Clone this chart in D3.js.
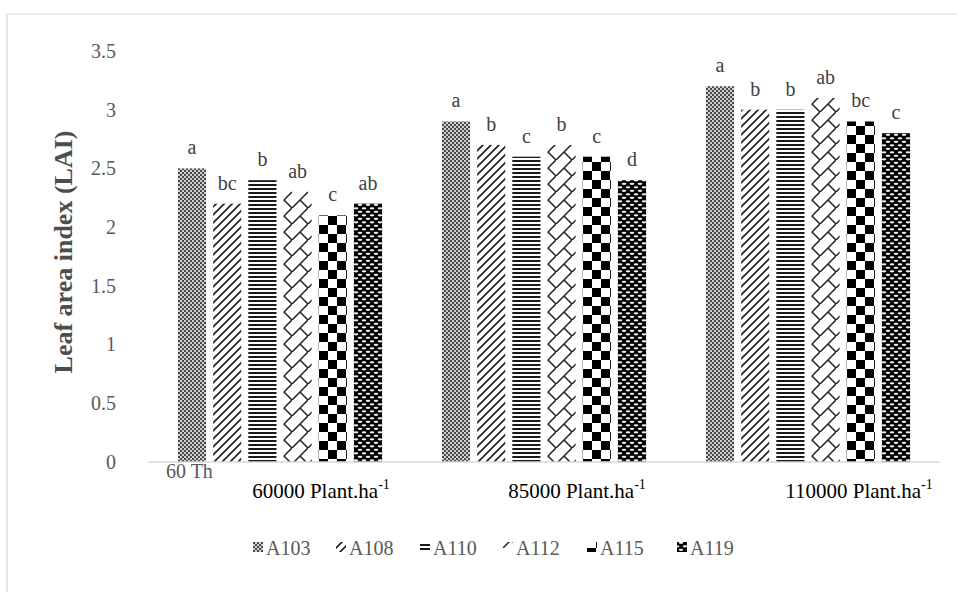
<!DOCTYPE html>
<html><head><meta charset="utf-8">
<script src="https://cdn.jsdelivr.net/npm/d3@7"></script>
<style>body{margin:0;background:#fff}svg{display:block}text{font-family:"Liberation Serif","Times New Roman",serif}</style>
</head><body>
<svg id="c" width="957" height="592"></svg>
<script>
const groups = ["60000", "85000", "110000"];
const series = ["A103", "A108", "A110", "A112", "A115", "A119"];
const values = {
  A103: [2.5, 2.9, 3.2],
  A108: [2.2, 2.7, 3.0],
  A110: [2.4, 2.6, 3.0],
  A112: [2.3, 2.7, 3.1],
  A115: [2.1, 2.6, 2.9],
  A119: [2.2, 2.4, 2.8]
};
const letters = {
  A103: ["a", "a", "a"],
  A108: ["bc", "b", "b"],
  A110: ["b", "c", "b"],
  A112: ["ab", "b", "ab"],
  A115: ["c", "c", "bc"],
  A119: ["ab", "d", "c"]
};
const yTicks = [0, 0.5, 1, 1.5, 2, 2.5, 3, 3.5];
const yTitle = "Leaf area index (LAI)";
const catSuffix = " Plant.ha";

const svg = d3.select("#c");
const defs = svg.append("defs");
const FONT = '"Liberation Serif","Times New Roman",serif';

function pat(id, w, h, draw) {
  const p = defs.append("pattern").attr("id", id).attr("patternUnits", "userSpaceOnUse")
    .attr("width", w).attr("height", h);
  draw(p);
}
pat("p0", 4, 4, p => {
  p.append("rect").attr("width", 4).attr("height", 4).attr("fill", "#4a4a4a");
  p.append("rect").attr("x", 0).attr("y", 0).attr("width", 2).attr("height", 2).attr("fill", "#d0d0d0");
  p.append("rect").attr("x", 2).attr("y", 2).attr("width", 2).attr("height", 2).attr("fill", "#d0d0d0");
});
pat("p1", 8, 8, p => {
  p.append("rect").attr("width", 8).attr("height", 8).attr("fill", "#fff");
  p.append("path").attr("d", "M-2,2 L2,-2 M0,8 L8,0 M6,10 L10,6").attr("stroke", "#222").attr("stroke-width", 1.7);
});
pat("p2", 4, 4, p => {
  p.append("rect").attr("width", 4).attr("height", 4).attr("fill", "#fff");
  p.append("rect").attr("y", 0).attr("width", 4).attr("height", 2).attr("fill", "#1a1a1a");
});
pat("p3", 16, 16, p => {
  p.append("rect").attr("width", 16).attr("height", 16).attr("fill", "#fff");
  p.append("path").attr("d", "M-1,17 L17,-1 M8,8 L16,16").attr("stroke", "#222").attr("stroke-width", 1.5).attr("fill", "none");
});
pat("p4", 18, 18, p => {
  p.append("rect").attr("width", 18).attr("height", 18).attr("fill", "#fff");
  p.append("rect").attr("x", 0).attr("y", 0).attr("width", 9).attr("height", 9).attr("fill", "#000");
  p.append("rect").attr("x", 9).attr("y", 9).attr("width", 9).attr("height", 9).attr("fill", "#000");
});
pat("p5", 8, 7, p => {
  p.append("rect").attr("width", 8).attr("height", 7).attr("fill", "#000");
  p.append("ellipse").attr("cx", 4).attr("cy", 1.8).attr("rx", 2.4).attr("ry", 1.1).attr("fill", "#eee");
  p.append("ellipse").attr("cx", 0).attr("cy", 5.3).attr("rx", 2.4).attr("ry", 1.1).attr("fill", "#eee");
  p.append("ellipse").attr("cx", 8).attr("cy", 5.3).attr("rx", 2.4).attr("ry", 1.1).attr("fill", "#eee");
});
const patId = d3.scaleOrdinal().domain(series).range(["p0", "p1", "p2", "p3", "p4", "p5"]);

// frame
svg.append("path").attr("d", "M7,592 L7,14 L957,14").attr("fill", "none").attr("stroke", "#d9d9d9").attr("stroke-width", 1.2);

const x0 = d3.scaleBand().domain(groups).range([148, 940]);
const x1 = d3.scaleBand().domain(series).range([0, x0.bandwidth()]).paddingInner(0.2).paddingOuter(0.85);
const y = d3.scaleLinear().domain([0, 3.5]).range([462, 51]);

// y ticks
const yAxis = svg.append("g").attr("transform", "translate(116,0)")
  .call(d3.axisLeft(y).tickValues(yTicks).tickSize(0).tickPadding(0).tickFormat(d3.format("")));
yAxis.select(".domain").remove();
yAxis.attr("font-family", FONT);
yAxis.selectAll("text").attr("font-size", 20).attr("fill", "#595959").attr("dy", "0.32em");

// bars
const gG = svg.selectAll(".grp").data(groups).enter().append("g")
  .attr("transform", d => `translate(${x0(d)},0)`);
series.forEach(s => {
  gG.append("rect")
    .attr("x", x1(s)).attr("width", x1.bandwidth())
    .attr("y", (d, i) => y(values[s][i]))
    .attr("height", (d, i) => y(0) - y(values[s][i]))
    .attr("fill", `url(#${patId(s)})`);
  gG.append("text")
    .attr("x", x1(s) + x1.bandwidth() / 2)
    .attr("y", (d, i) => y(values[s][i]) - 14)
    .attr("text-anchor", "middle")
    .attr("font-size", 20).attr("fill", "#404040")
    .text((d, i) => letters[s][i]);
});

// baseline
svg.append("line").attr("x1", 148).attr("x2", 940).attr("y1", y(0)).attr("y2", y(0))
  .attr("stroke", "#d9d9d9").attr("stroke-width", 1.5);

// truncated axis label
svg.append("text").attr("x", 166).attr("y", 478)
  .attr("font-size", 20).attr("fill", "#595959").text("60 Th");

// category labels
const labOff = [41, 33, 51];
groups.forEach((g, i) => {
  const t = svg.append("text").attr("x", x0(g) + x0.bandwidth() / 2 + labOff[i]).attr("y", 498)
    .attr("text-anchor", "middle").attr("font-size", 21).attr("fill", "#000");
  t.append("tspan").text(g + catSuffix);
  t.append("tspan").attr("font-size", 14).attr("dy", -9).text("-1");
});

// y title
svg.append("text").attr("transform", "translate(72,252) rotate(-90)")
  .attr("text-anchor", "middle").attr("font-weight", "bold")
  .attr("font-size", 26).attr("fill", "#4d4d4d").text(yTitle);

// legend
const legX = [253, 336, 420, 503, 587, 677];
const leg = svg.selectAll(".leg").data(series).enter().append("g")
  .attr("transform", (d, i) => `translate(${legX[i]},548)`);
leg.append("rect").attr("x", 0).attr("y", -6).attr("width", 10).attr("height", 10)
  .attr("fill", d => `url(#${patId(d)})`);
leg.append("text").attr("x", 13).attr("y", 0).attr("dy", "0.35em")
  .attr("font-size", 20).attr("fill", "#595959").text(d => d);
</script>
</body></html>
